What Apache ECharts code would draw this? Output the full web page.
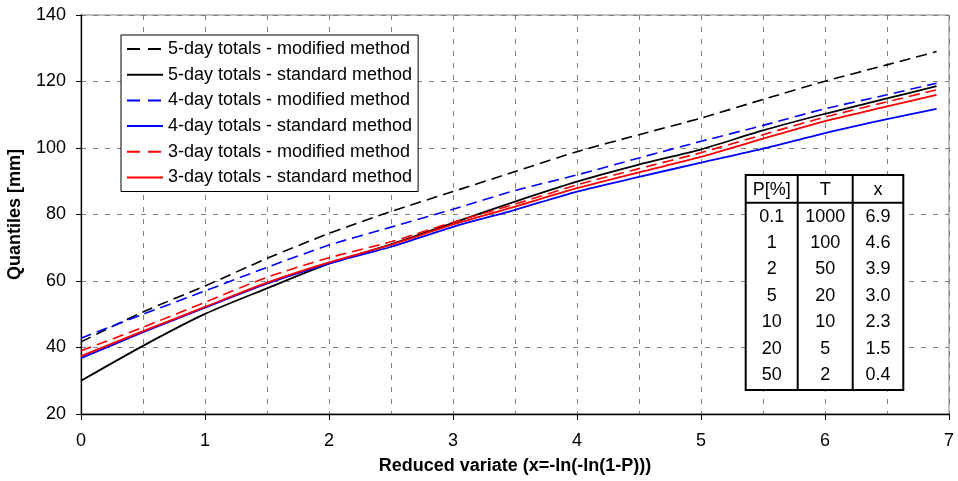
<!DOCTYPE html>
<html>
<head>
<meta charset="utf-8">
<script src="https://cdn.jsdelivr.net/npm/echarts@6/dist/echarts.min.js"></script>
<style>
  html, body { margin: 0; padding: 0; background: #fff; }
  #chart { width: 958px; height: 481px; }
</style>
</head>
<body>
<div id="chart"></div>
<script>
// Reduced variate x = -ln(-ln(1-P))
var reducedVariate = [0, 0.5, 1, 1.5, 2, 2.5, 3, 3.5, 4, 4.5, 5, 5.5, 6, 6.5, 6.9];

// Quantiles [mm]
var fiveDayModified  = [41.7, 50.7, 58.5, 66.8, 74.3, 80.9, 86.9, 92.9, 98.9, 104.0, 109.0, 114.6, 120.1, 125.0, 129.0];
var fiveDayStandard  = [30.0, 40.5, 50.1, 57.8, 65.2, 71.0, 77.5, 83.9, 89.9, 95.0, 99.6, 105.3, 110.3, 114.9, 118.6];
var fourDayModified  = [42.8, 50.0, 57.0, 64.1, 70.8, 76.2, 81.6, 87.2, 91.9, 97.0, 102.0, 106.8, 111.8, 116.0, 119.5];
var fourDayStandard  = [36.8, 44.6, 52.0, 59.2, 65.2, 70.3, 76.3, 81.4, 86.9, 91.3, 95.6, 99.8, 104.5, 108.7, 111.8];
var threeDayModified = [39.0, 46.1, 53.6, 61.1, 67.0, 71.8, 77.7, 83.1, 88.9, 93.8, 98.6, 104.0, 109.3, 113.9, 117.5];
var threeDayStandard = [37.4, 44.9, 52.2, 59.5, 65.6, 70.9, 77.0, 82.4, 87.9, 92.7, 97.3, 102.8, 108.1, 112.5, 116.0];

var seriesNames = [
  '5-day totals - modified method',
  '5-day totals - standard method',
  '4-day totals - modified method',
  '4-day totals - standard method',
  '3-day totals - modified method',
  '3-day totals - standard method'
];
var seriesDashed = [true, false, true, false, true, false];

// Return period table
var tableHeader = ['P[%]', 'T', 'x'];
var tableP = ['0.1', '1', '2', '5', '10', '20', '50'];
var tableT = ['1000', '100', '50', '20', '10', '5', '2'];
var tableX = ['6.9', '4.6', '3.9', '3.0', '2.3', '1.5', '0.4'];

var FONT = '"Liberation Sans", Arial, sans-serif';
var FS = 18;

function pairs(ys) {
  return reducedVariate.map(function (x, i) { return [x, ys[i]]; });
}

function makeSeries(name, ys, color, dashed) {
  return {
    name: name,
    type: 'line',
    data: pairs(ys),
    symbol: 'none',
    smooth: 0.25,
    lineStyle: { color: color, width: dashed ? 1.6 : 1.8, type: dashed ? [11, 6] : 'solid' },
    itemStyle: { color: color },
    emphasis: { disabled: true },
    z: 3
  };
}

// Table drawn as graphic elements
function buildTable() {
  var colX = [745.7, 797.7, 852.7, 903.3];
  var top = 175, headBottom = 202.7, bottom = 390;
  var firstRow = 216.7, rowStep = 26.4;
  var els = [];
  els.push({ type: 'rect', shape: { x: colX[0], y: top, width: colX[3] - colX[0], height: bottom - top },
             style: { fill: '#fff', stroke: '#000', lineWidth: 2 }, z: 10 });
  els.push({ type: 'line', shape: { x1: colX[0], y1: headBottom, x2: colX[3], y2: headBottom },
             style: { stroke: '#000', lineWidth: 2 }, z: 11 });
  els.push({ type: 'line', shape: { x1: colX[1], y1: top, x2: colX[1], y2: bottom },
             style: { stroke: '#000', lineWidth: 2 }, z: 11 });
  els.push({ type: 'line', shape: { x1: colX[2], y1: top, x2: colX[2], y2: bottom },
             style: { stroke: '#000', lineWidth: 2 }, z: 11 });
  var cols = [tableP, tableT, tableX];
  for (var c = 0; c < 3; c++) {
    var cx = (colX[c] + colX[c + 1]) / 2;
    els.push({ type: 'text', x: cx, y: (top + headBottom) / 2 + 1, z: 12,
               style: { text: tableHeader[c], fill: '#000', font: FS + 'px ' + FONT, align: 'center', verticalAlign: 'middle' } });
    for (var r = 0; r < cols[c].length; r++) {
      els.push({ type: 'text', x: cx, y: firstRow + r * rowStep, z: 12,
                 style: { text: cols[c][r], fill: '#000', font: FS + 'px ' + FONT, align: 'center', verticalAlign: 'middle' } });
    }
  }
  return els;
}

var gridLine = { show: true, lineStyle: { color: '#808080', width: 1, type: [5, 7] } };

var legendData = seriesNames.map(function (n, i) {
  return seriesDashed[i] ? { name: n, lineStyle: { type: [13, 8] } } : { name: n };
});

var chart = echarts.init(document.getElementById('chart'), null, { renderer: 'canvas' });
chart.setOption({
  animation: false,
  backgroundColor: '#fff',
  textStyle: { fontFamily: FONT },
  grid: {
    left: 81, right: 9, top: 15, bottom: 67,
    outerBoundsMode: 'none',
    containLabel: false,
    show: true, borderColor: '#808080', borderWidth: 1, backgroundColor: 'transparent'
  },
  legend: {
    orient: 'vertical',
    left: 121,
    top: 35,
    padding: [5, 6, 5, 5],
    itemGap: 7.7,
    itemWidth: 36,
    itemHeight: 14,
    backgroundColor: '#fff',
    borderColor: '#000',
    borderWidth: 1,
    borderRadius: 0,
    selectedMode: false,
    itemStyle: { opacity: 0 },
    textStyle: { fontSize: FS, color: '#000', fontFamily: FONT, lineHeight: 18 },
    data: legendData
  },
  xAxis: {
    type: 'value',
    min: 0,
    max: 7,
    interval: 1,
    name: 'Reduced variate (x=-ln(-ln(1-P)))',
    nameLocation: 'middle',
    nameGap: 43,
    nameTextStyle: { fontSize: FS, fontWeight: 'bold', color: '#000', fontFamily: FONT },
    axisLine: { show: true, lineStyle: { color: '#000', width: 1.3 } },
    axisTick: { show: true, length: 6, lineStyle: { color: '#000' } },
    axisLabel: { fontSize: FS, color: '#000', margin: 18, fontFamily: FONT },
    splitLine: gridLine,
    minorTick: { show: false, splitNumber: 2 },
    minorSplitLine: gridLine
  },
  yAxis: {
    type: 'value',
    min: 20,
    max: 140,
    interval: 20,
    name: 'Quantiles [mm]',
    nameLocation: 'middle',
    nameGap: 57,
    nameTextStyle: { fontSize: FS, fontWeight: 'bold', color: '#000', fontFamily: FONT },
    axisLine: { show: true, lineStyle: { color: '#000', width: 1.3 } },
    axisTick: { show: true, length: 5, lineStyle: { color: '#000' } },
    axisLabel: { fontSize: FS, color: '#000', margin: 15, fontFamily: FONT },
    splitLine: gridLine
  },
  series: [
    makeSeries(seriesNames[0], fiveDayModified, '#000000', seriesDashed[0]),
    makeSeries(seriesNames[1], fiveDayStandard, '#000000', seriesDashed[1]),
    makeSeries(seriesNames[2], fourDayModified, '#0000FF', seriesDashed[2]),
    makeSeries(seriesNames[3], fourDayStandard, '#0000FF', seriesDashed[3]),
    makeSeries(seriesNames[4], threeDayModified, '#FF0000', seriesDashed[4]),
    makeSeries(seriesNames[5], threeDayStandard, '#FF0000', seriesDashed[5])
  ],
  graphic: buildTable()
});
</script>
</body>
</html>
